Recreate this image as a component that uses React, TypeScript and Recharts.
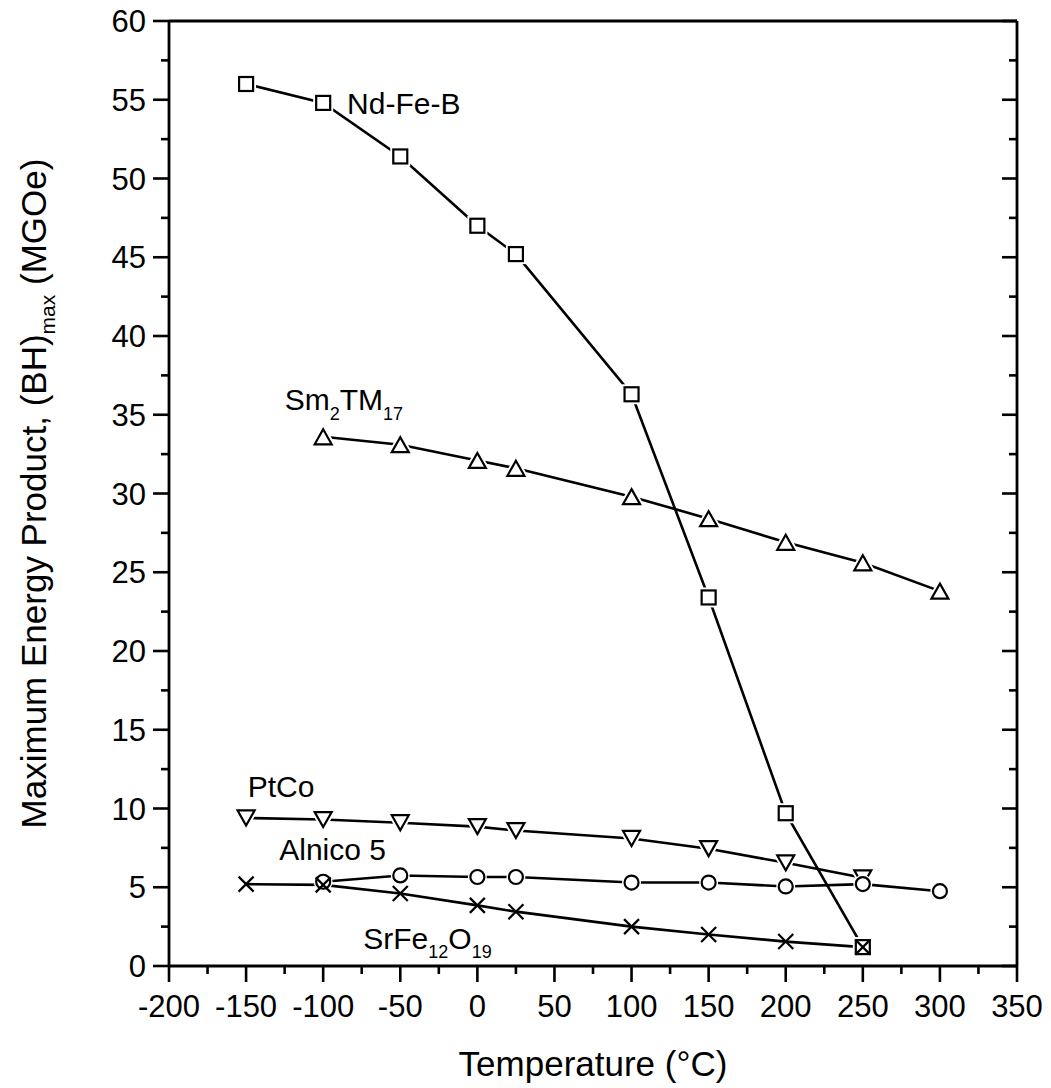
import React from "react";
import { LineChart, Line, XAxis, YAxis, ReferenceDot } from "recharts";

const FONT = "'Liberation Sans', Arial, Helvetica, sans-serif";

// Temperature (°C) and (BH)max (MGOe) per magnet material
const ndTemps = [-150, -100, -50, 0, 25, 100, 150, 200, 250];
const ndValues = [56.0, 54.8, 51.4, 47.0, 45.2, 36.3, 23.4, 9.7, 1.2];

const smTemps = [-100, -50, 0, 25, 100, 150, 200, 250, 300];
const smValues = [33.6, 33.1, 32.1, 31.6, 29.8, 28.4, 26.9, 25.6, 23.8];

const ptTemps = [-150, -100, -50, 0, 25, 100, 150, 200, 250];
const ptValues = [9.4, 9.3, 9.1, 8.85, 8.6, 8.1, 7.45, 6.55, 5.6];

const alTemps = [-100, -50, 0, 25, 100, 150, 200, 250, 300];
const alValues = [5.35, 5.75, 5.65, 5.65, 5.3, 5.3, 5.05, 5.2, 4.75];

const srTemps = [-150, -100, -50, 0, 25, 100, 150, 200, 250];
const srValues = [5.2, 5.15, 4.6, 3.85, 3.45, 2.5, 2.0, 1.55, 1.2];

// axis ticks (major ones get a label)
const xTicks = [
  -200, -175, -150, -125, -100, -75, -50, -25, 0, 25, 50, 75, 100, 125, 150,
  175, 200, 225, 250, 275, 300, 325, 350,
];
const xMajor = [-200, -150, -100, -50, 0, 50, 100, 150, 200, 250, 300, 350];
const yTicks = [
  0, 2.5, 5, 7.5, 10, 12.5, 15, 17.5, 20, 22.5, 25, 27.5, 30, 32.5, 35, 37.5,
  40, 42.5, 45, 47.5, 50, 52.5, 55, 57.5, 60,
];
const yMajor = [0, 5, 10, 15, 20, 25, 30, 35, 40, 45, 50, 55, 60];

// material names, written at (temperature, value) text anchors
const labelNames = ["Nd-Fe-B", "Sm2TM17", "PtCo", "Alnico 5", "SrFe12O19"];
const labelTemps = [-84.5, -125, -149, -128.5, -74];
const labelValues = [54.1, 35.3, 10.7, 6.7, 1.1];

const toPoints = (temps: number[], values: number[]) =>
  temps.map((t, i) => ({ t, v: values[i] }));

const ndData = toPoints(ndTemps, ndValues);
const smData = toPoints(smTemps, smValues);
const ptData = toPoints(ptTemps, ptValues);
const alData = toPoints(alTemps, alValues);
const srData = toPoints(srTemps, srValues);

const MAJOR = 16;
const MINOR = 8;
const TICK_W = 2.6;
const TICK_FONT = 31;
const FRAME = { stroke: "#000", strokeWidth: 2.8 };

function BottomTick({ x, y, payload }: any) {
  const major = xMajor.includes(payload.value);
  return (
    <g>
      <line x1={x} x2={x} y1={y} y2={y + (major ? MAJOR : MINOR)} stroke="#000" strokeWidth={TICK_W} />
      {major && (
        <text x={x} y={y + 51} textAnchor="middle" fontSize={TICK_FONT} fontFamily={FONT} fill="#000">
          {payload.value}
        </text>
      )}
    </g>
  );
}

function TopTick({ x, y, payload }: any) {
  const major = xMajor.includes(payload.value);
  return <line x1={x} x2={x} y1={y} y2={y + (major ? MAJOR - 1 : MINOR)} stroke="#000" strokeWidth={TICK_W} />;
}

function LeftTick({ x, y, payload }: any) {
  const major = yMajor.includes(payload.value);
  return (
    <g>
      <line x1={x - (major ? MAJOR : MINOR)} x2={x} y1={y} y2={y} stroke="#000" strokeWidth={TICK_W} />
      {major && (
        <text x={x - 23} y={y + 11} textAnchor="end" fontSize={TICK_FONT} fontFamily={FONT} fill="#000">
          {payload.value}
        </text>
      )}
    </g>
  );
}

function RightTick({ x, y, payload }: any) {
  const major = yMajor.includes(payload.value);
  return <line x1={x - (major ? MAJOR - 1 : MINOR)} x2={x} y1={y} y2={y} stroke="#000" strokeWidth={TICK_W} />;
}

// name with chemical subscripts: digits after letters drop below the baseline
function Formula({ text, size }: { text: string; size: number }) {
  const parts = text.match(/(\d+|\D+)/g) || [];
  const sub = size * 0.6;
  let lowered = false;
  return (
    <>
      {parts.map((p, i) => {
        const isSub = /^\d+$/.test(p) && i > 0 && !/\s$/.test(parts[i - 1]);
        let dy = 0;
        if (isSub && !lowered) {
          dy = size * 0.32;
          lowered = true;
        } else if (!isSub && lowered) {
          dy = -size * 0.32;
          lowered = false;
        }
        return (
          <tspan key={i} dy={dy} fontSize={isSub ? sub : size}>
            {p}
          </tspan>
        );
      })}
    </>
  );
}

function XTitle({ viewBox }: any) {
  const { x, y, width } = viewBox;
  return (
    <text x={x + width / 2} y={y + 110} textAnchor="middle" fontSize={35} fontFamily={FONT} fill="#000">
      Temperature (°C)
    </text>
  );
}

function YTitle({ viewBox }: any) {
  const { x, y, height } = viewBox;
  const cx = x + 46;
  const cy = y + height / 2;
  return (
    <text
      x={cx}
      y={cy}
      transform={`rotate(-90 ${cx} ${cy})`}
      textAnchor="middle"
      fontSize={35}
      fontFamily={FONT}
      fill="#000"
    >
      <tspan>Maximum Energy Product, (BH)</tspan>
      <tspan fontSize={21} dy={9}>max</tspan>
      <tspan dy={-9}> (MGOe)</tspan>
    </text>
  );
}

const MARK = 2.2;

function SquareDot({ cx, cy }: any) {
  const s = 7;
  return (
    <g>
      <rect x={cx - s} y={cy - s} width={2 * s} height={2 * s} fill="#fff" stroke="#fff" strokeWidth={6} />
      <rect x={cx - s} y={cy - s} width={2 * s} height={2 * s} fill="#fff" stroke="#000" strokeWidth={MARK} />
    </g>
  );
}

function TriangleDot({ cx, cy, down }: any) {
  const w = 8.5;
  const h = 7.5;
  const d = down ? -1 : 1;
  const pts = `${cx},${cy - d * h} ${cx + w},${cy + d * h} ${cx - w},${cy + d * h}`;
  return (
    <g>
      <polygon points={pts} fill="#fff" stroke="#fff" strokeWidth={6} strokeLinejoin="round" />
      <polygon points={pts} fill="#fff" stroke="#000" strokeWidth={MARK} />
    </g>
  );
}

function CircleDot({ cx, cy }: any) {
  return (
    <g>
      <circle cx={cx} cy={cy} r={7} fill="#fff" stroke="#fff" strokeWidth={5} />
      <circle cx={cx} cy={cy} r={7} fill="#fff" stroke="#000" strokeWidth={MARK} />
    </g>
  );
}

function CrossDot({ cx, cy }: any) {
  const s = 7.5;
  return (
    <g stroke="#000" strokeWidth={MARK}>
      <line x1={cx - s} y1={cy - s} x2={cx + s} y2={cy + s} />
      <line x1={cx - s} y1={cy + s} x2={cx + s} y2={cy - s} />
    </g>
  );
}

const LINE_W = 2.6;

export default function App() {
  return (
    <div style={{ position: "absolute", left: 0, top: 0, background: "#fff" }}>
      <LineChart width={1051} height={1088} margin={{ top: 20, right: 33, bottom: 0, left: 0 }}>
        <XAxis
          xAxisId="bottom"
          dataKey="t"
          type="number"
          domain={[-200, 350]}
          ticks={xTicks}
          interval={0}
          height={122}
          tickSize={0}
          tickMargin={0}
          tickLine={false}
          tick={<BottomTick />}
          axisLine={FRAME}
          allowDataOverflow
          label={{ content: <XTitle /> }}
        />
        <XAxis
          xAxisId="top"
          orientation="top"
          type="number"
          domain={[-200, 350]}
          ticks={xTicks}
          interval={0}
          height={1}
          tickSize={0}
          tickMargin={0}
          tickLine={false}
          tick={<TopTick />}
          axisLine={FRAME}
          allowDataOverflow
        />
        <YAxis
          yAxisId="left"
          type="number"
          domain={[0, 60]}
          ticks={yTicks}
          interval={0}
          width={169}
          tickSize={0}
          tickMargin={0}
          tickLine={false}
          tick={<LeftTick />}
          axisLine={FRAME}
          allowDataOverflow
          label={{ content: <YTitle /> }}
        />
        <YAxis
          yAxisId="right"
          orientation="right"
          type="number"
          domain={[0, 60]}
          ticks={yTicks}
          interval={0}
          width={1}
          tickSize={0}
          tickMargin={0}
          tickLine={false}
          tick={<RightTick />}
          axisLine={FRAME}
          allowDataOverflow
        />

        <Line
          xAxisId="bottom"
          yAxisId="left"
          data={ndData}
          dataKey="v"
          stroke="#000"
          strokeWidth={LINE_W}
          isAnimationActive={false}
          dot={(p: any) => <SquareDot key={`nd-${p.index}`} cx={p.cx} cy={p.cy} />}
        />
        <Line
          xAxisId="bottom"
          yAxisId="left"
          data={smData}
          dataKey="v"
          stroke="#000"
          strokeWidth={LINE_W}
          isAnimationActive={false}
          dot={(p: any) => <TriangleDot key={`sm-${p.index}`} cx={p.cx} cy={p.cy} />}
        />
        <Line
          xAxisId="bottom"
          yAxisId="left"
          data={ptData}
          dataKey="v"
          stroke="#000"
          strokeWidth={LINE_W}
          isAnimationActive={false}
          dot={(p: any) => <TriangleDot key={`pt-${p.index}`} cx={p.cx} cy={p.cy} down />}
        />
        <Line
          xAxisId="bottom"
          yAxisId="left"
          data={alData}
          dataKey="v"
          stroke="#000"
          strokeWidth={LINE_W}
          isAnimationActive={false}
          dot={(p: any) => <CircleDot key={`al-${p.index}`} cx={p.cx} cy={p.cy} />}
        />
        <Line
          xAxisId="bottom"
          yAxisId="left"
          data={srData}
          dataKey="v"
          stroke="#000"
          strokeWidth={LINE_W}
          isAnimationActive={false}
          dot={(p: any) => <CrossDot key={`sr-${p.index}`} cx={p.cx} cy={p.cy} />}
        />

        {labelNames.map((name, i) => (
          <ReferenceDot
            key={name}
            xAxisId="bottom"
            yAxisId="left"
            x={labelTemps[i]}
            y={labelValues[i]}
            r={0}
            shape={(p: any) => (
              <text x={p.cx} y={p.cy} fontSize={30} fontFamily={FONT} fill="#000">
                <Formula text={name} size={30} />
              </text>
            )}
          />
        ))}
      </LineChart>
    </div>
  );
}
